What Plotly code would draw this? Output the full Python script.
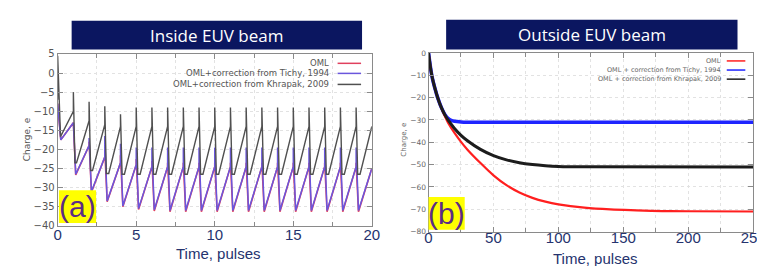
import plotly.graph_objects as go

W, H = 765, 266

# ---------------- Panel (a): inside EUV beam ----------------
pulses_a = list(range(0, 21))  # pulse times 0..20
# value just before each pulse (k = 0..20)
khr_pre = [-7, -10, -12.5, -13.5, -14, -14, -14, -14, -14, -14, -14,
           -14, -14, -14, -14, -14, -14, -14, -14, -14, -14]
# top of the spike at each pulse (k = 0..19)
khr_spike = [4.5, -5, -7.5, -8.7, -10.8, -9, -9, -9, -9, -9,
             -9, -9, -9, -9, -9, -9, -9, -9, -9, -9]
# minimum reached just after each pulse
khr_min = [-16.5, -23.5, -25.5, -26.3, -26.5, -26.5, -26.5, -26.5, -26.5, -26.5,
           -26.5, -26.5, -26.5, -26.5, -26.5, -26.5, -26.5, -26.5, -26.5, -26.5]
khr_min_dt = [0.18, 0.1, 0.1, 0.1, 0.1, 0.1, 0.1, 0.1, 0.1, 0.1,
              0.1, 0.1, 0.1, 0.1, 0.1, 0.1, 0.1, 0.1, 0.1, 0.1]
khr_flat_dt = [0.2, 0.2, 0.22, 0.25, 0.25, 0.25, 0.25, 0.25, 0.25, 0.25,
               0.25, 0.25, 0.25, 0.25, 0.25, 0.25, 0.25, 0.25, 0.25, 0.25]

tic_pre = [-8, -13, -19, -22, -23.5, -24, -24.5, -24.5, -24.5, -24.5, -24.5,
           -24.5, -24.5, -24.5, -24.5, -24.5, -24.5, -24.5, -24.5, -24.5, -25]
tic_spike = [-8, -13, -17, -16.5, -18.5, -19.5, -19.5, -19.5, -19.5, -19.5,
             -19.5, -19.5, -19.5, -19.5, -19.5, -19.5, -19.5, -19.5, -19.5, -19.5]
tic_min = [-17.5, -26.5, -31, -33.5, -34.8, -35.5, -35.8, -36, -36, -36,
           -36, -36, -36, -36, -36, -36, -36, -36, -36, -36]
tic_min_dt = [0.2, 0.15, 0.15, 0.15, 0.15, 0.15, 0.15, 0.15, 0.15, 0.15,
              0.15, 0.15, 0.15, 0.15, 0.15, 0.15, 0.15, 0.15, 0.15, 0.15]

oml_pre = [-8, -13, -19, -22, -23.5, -24, -24.5, -24.5, -24.5, -24.5, -24.5,
           -24.5, -24.5, -24.5, -24.5, -24.5, -24.5, -24.5, -24.5, -24.5, -25]
oml_spike = [-8, -13, -18, -20, -21.5, -22.5, -23, -23.5, -23.5, -23.5,
             -23.5, -23.5, -23.5, -23.5, -23.5, -23.5, -23.5, -23.5, -23.5, -23.5]
oml_min = [-17.5, -26.7, -31.2, -33.7, -35, -35.7, -36.1, -36.3, -36.3, -36.3,
           -36.3, -36.3, -36.3, -36.3, -36.3, -36.3, -36.3, -36.3, -36.3, -36.3]
oml_min_dt = tic_min_dt


def sawtooth(pulses, pre, spike, mins, min_dt, flat_dt=None):
    xs, ys = [], []
    for i, k in enumerate(pulses[:-1]):
        xs += [k, k, k + min_dt[i]]
        ys += [pre[i], spike[i], mins[i]]
        if flat_dt is not None:
            xs.append(k + flat_dt[i])
            ys.append(mins[i])
    xs.append(pulses[-1])
    ys.append(pre[-1])
    return xs, ys


# ---------------- Panel (b): outside EUV beam ----------------
t_oml = [0, 2.5, 5, 7.5, 10, 12.5, 15, 20, 25, 30, 40, 50, 60, 70, 80, 90, 100,
         120, 140, 160, 180, 200, 250]
q_oml = [0, -10, -16, -20.8, -24.8, -28.2, -31.2, -35.8, -39.8, -43.3, -49.3, -54.8,
         -59.2, -62.5, -64.9, -66.6, -67.8, -69.3, -70.1, -70.5, -70.8, -70.9, -71]
t_khr = [0, 2.5, 5, 7.5, 10, 12.5, 15, 20, 25, 30, 40, 50, 60, 70, 80, 90, 100,
         120, 250]
q_khr = [0, -10, -16, -20.8, -24.6, -27.6, -30, -33.8, -36.9, -39.3, -43.2, -46.0,
         -47.9, -49.2, -50.0, -50.5, -50.8, -51.0, -51.1]
t_tic = [0, 2.5, 5, 7.5, 10, 12.5, 15, 17.5, 20, 25, 30, 50, 100, 150, 200, 250]
q_tic = [0, -10, -16, -20.8, -24.6, -27.5, -29.3, -30.2, -30.6, -30.9, -31, -31, -31,
         -31, -31, -31]

legend_labels_a = ["OML", "OML+correction from Tichy, 1994", "OML+correction from Khrapak, 2009"]
legend_labels_b = ["OML", "OML + correction from Tichy, 1994", "OML + correction from Khrapak, 2009"]

RED_A, BLUE_A, BLACK_A = "#e0405e", "#6a56dc", "#505050"
RED_B, BLUE_B, BLACK_B = "#ff1f1f", "#1f24ff", "#1c1c1c"


def px(x):
    return x / W


def py(y):
    return 1 - y / H


fig = go.Figure()

xo, yo = sawtooth(pulses_a, oml_pre, oml_spike, oml_min, oml_min_dt)
fig.add_trace(go.Scatter(x=xo, y=yo, mode="lines", line=dict(color=RED_A, width=1.6),
                         xaxis="x", yaxis="y", showlegend=False))
xt, yt = sawtooth(pulses_a, tic_pre, tic_spike, tic_min, tic_min_dt)
fig.add_trace(go.Scatter(x=xt, y=yt, mode="lines", line=dict(color=BLUE_A, width=1.5),
                         xaxis="x", yaxis="y", showlegend=False))
xk, yk = sawtooth(pulses_a, khr_pre, khr_spike, khr_min, khr_min_dt, khr_flat_dt)
fig.add_trace(go.Scatter(x=xk, y=yk, mode="lines", line=dict(color=BLACK_A, width=1.4),
                         xaxis="x", yaxis="y", showlegend=False))

fig.add_trace(go.Scatter(x=t_tic, y=q_tic, mode="lines", line=dict(color=BLUE_B, width=3.6, shape="spline"),
                         xaxis="x2", yaxis="y2", showlegend=False))
fig.add_trace(go.Scatter(x=t_oml, y=q_oml, mode="lines", line=dict(color=RED_B, width=2.2, shape="spline"),
                         xaxis="x2", yaxis="y2", showlegend=False))
fig.add_trace(go.Scatter(x=t_khr, y=q_khr, mode="lines", line=dict(color=BLACK_B, width=3.0, shape="spline"),
                         xaxis="x2", yaxis="y2", showlegend=False))

axis_common = dict(showline=True, linecolor="#8a8a8a", linewidth=1, mirror="ticks",
                   ticks="inside", tickcolor="#8a8a8a", ticklen=5,
                   showgrid=True, gridcolor="#e2e2e2", griddash="dot", zeroline=False)

xfont = dict(family="Liberation Sans, Arial", size=15, color="#25336e")

fig.update_layout(
    width=W, height=H, margin=dict(l=0, r=0, t=0, b=0),
    paper_bgcolor="white", plot_bgcolor="white",
    xaxis=dict(domain=[px(46.7), px(368)], range=[0, 20], dtick=5, tick0=0,
               tickfont=xfont, ticklabelstandoff=-5,
               minor=dict(dtick=2.5, ticks="inside", ticklen=4, tickcolor="#8a8a8a",
                          showgrid=True, gridcolor="#e2e2e2", griddash="dot"),
               anchor="y", **axis_common),
    yaxis=dict(domain=[py(222), py(42.7)], range=[-40, 5], dtick=5,
               tickfont=dict(family="DejaVu Sans", size=10, color="#555"),
               anchor="x", **axis_common),
    xaxis2=dict(domain=[px(426), px(758)], range=[0, 250], dtick=50, tick0=0,
                tickfont=xfont, ticklabelstandoff=-8,
                minor=dict(dtick=25, ticks="inside", ticklen=4, tickcolor="#8a8a8a",
                           showgrid=True, gridcolor="#e2e2e2", griddash="dot"),
                anchor="y2", **axis_common),
    yaxis2=dict(domain=[py(228), py(41.7)], range=[-80, 0], dtick=10,
                tickfont=dict(family="DejaVu Sans", size=7.5, color="#666"),
                anchor="x2", **axis_common),
)

shapes = []
ann = []

# title banners
for (x0, x1, y0, y1, text) in [(61, 358, 8, 38, "Inside EUV beam"), (444, 742, 7, 38, "Outside EUV beam")]:
    shapes.append(dict(type="rect", xref="paper", yref="paper", x0=px(x0), x1=px(x1), y0=py(y1), y1=py(y0),
                       fillcolor="#0b1660", line=dict(width=0), layer="above"))
    ann.append(dict(text=text, xref="paper", yref="paper", x=px((x0 + x1) / 2), y=py((y0 + y1) / 2),
                    showarrow=False, font=dict(family="Open Sans", size=17, color="white"),
                    xanchor="center", yanchor="middle"))

# panel labels (a), (b)
for (x0, x1, y0, y1, text) in [(48, 86, 185, 219, "(a)"), (426, 463, 192, 226, "(b)")]:
    shapes.append(dict(type="rect", xref="paper", yref="paper", x0=px(x0), x1=px(x1), y0=py(y1), y1=py(y0),
                       fillcolor="#ffff00", line=dict(width=0), layer="above"))
    ann.append(dict(text=text, xref="paper", yref="paper", x=px((x0 + x1) / 2), y=py((y0 + y1) / 2),
                    showarrow=False, font=dict(family="Liberation Sans, Arial", size=30, color="#5b2c86"),
                    xanchor="center", yanchor="middle"))

# legends (gnuplot style: text right, sample to the right)
for i, (lab, col, yy) in enumerate(zip(legend_labels_a, [RED_A, BLUE_A, BLACK_A], [52.5, 63, 74.5])):
    ann.append(dict(text=lab, xref="paper", yref="paper", x=px(326), y=py(yy), showarrow=False,
                    xanchor="right", yanchor="middle", font=dict(family="DejaVu Sans", size=8.5, color="#555")))
    shapes.append(dict(type="line", xref="paper", yref="paper", x0=px(333), x1=px(357), y0=py(yy), y1=py(yy),
                       line=dict(color=col, width=1.5)))
for i, (lab, col, yy) in enumerate(zip(legend_labels_b, [RED_B, BLUE_B, BLACK_B], [50, 59.5, 69])):
    ann.append(dict(text=lab, xref="paper", yref="paper", x=px(727), y=py(yy), showarrow=False,
                    xanchor="right", yanchor="middle", font=dict(family="DejaVu Sans", size=6.5, color="#666")))
    shapes.append(dict(type="line", xref="paper", yref="paper", x0=px(731), x1=px(750), y0=py(yy), y1=py(yy),
                       line=dict(color=col, width=1.5)))

# axis titles
ann.append(dict(text="Time, pulses", xref="paper", yref="paper", x=px(211), y=py(251), showarrow=False,
                xanchor="center", yanchor="middle", font=xfont))
ann.append(dict(text="Time, pulses", xref="paper", yref="paper", x=px(596), y=py(256), showarrow=False,
                xanchor="center", yanchor="middle", font=xfont))
ann.append(dict(text="Charge, e", xref="paper", yref="paper", x=px(15), y=py(132), showarrow=False,
                textangle=-90, xanchor="center", yanchor="middle",
                font=dict(family="DejaVu Sans", size=9, color="#555")))
ann.append(dict(text="Charge, e", xref="paper", yref="paper", x=px(400), y=py(132), showarrow=False,
                textangle=-90, xanchor="center", yanchor="middle",
                font=dict(family="DejaVu Sans", size=7, color="#666")))

fig.update_layout(shapes=shapes, annotations=ann)
fig.write_html("out.html")
